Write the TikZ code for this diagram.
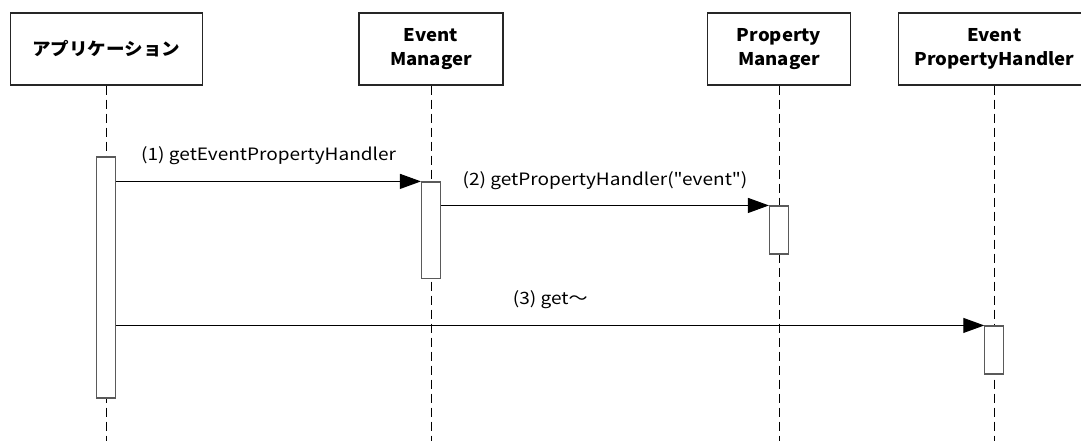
\documentclass[tikz,border=0pt]{standalone}
\usepackage{fontspec}
\setmainfont{Noto Sans CJK JP}
\newfontfamily\wideheadfont[FakeStretch=1.06]{Noto Sans CJK JP}
\newfontfamily\widelabelfont[FakeStretch=1.12]{Noto Sans CJK JP}
\usepackage{xcolor}
\definecolor{actgray}{RGB}{90,90,90}
\usetikzlibrary{arrows.meta, positioning}

\tikzset{
  objbox/.style={draw=black!85, line width=1.3pt, fill=white, minimum height=72pt,
       align=center, inner sep=0pt, font=\wideheadfont\bfseries\fontsize{17.5}{24}\selectfont},
  actbox/.style={draw=actgray, line width=1.1pt, fill=white, minimum width=19pt, inner sep=0pt},
  lifeline/.style={draw=black, line width=0.8pt, dash pattern=on 9pt off 5pt},
  msg/.style={draw=black, line width=1pt, -{Triangle[length=21pt, width=15pt]}},
  msglabel/.style={font=\widelabelfont\fontsize{17}{19}\selectfont, inner sep=0pt}
}

\begin{document}
\begin{tikzpicture}[x=1pt, y=-1pt]
  \clip (0,0) rectangle (1081,441);
  \fill[white] (0,0) rectangle (1081,441);

  % Objects
  \node[objbox, minimum width=192pt] (app) at (106.3,49) {アプリケーション};
  \node[objbox, minimum width=144pt] (evmgr) at (431,49) {Event\\Manager};
  \node[objbox, minimum width=143pt] (propmgr) at (779,49) {Property\\Manager};
  \node[objbox, minimum width=192pt] (evhandler) at (994.3,49) {Event\\PropertyHandler};

  % Lifelines
  \coordinate (bottom) at (0,441);
  \foreach \obj in {app, evmgr, propmgr, evhandler}
    \draw[lifeline] (\obj.south) -- (\obj.south |- bottom);

  % Activations
  \node[actbox, minimum height=241pt] (actapp) at (106.3,277.5) {};
  \node[actbox, minimum height=96.5pt] (actevmgr) at (431,230.2) {};
  \node[actbox, minimum height=48pt] (actpropmgr) at (779,230) {};
  \node[actbox, minimum height=48pt] (actevhandler) at (994.3,350) {};

  % Messages
  \draw[msg] (actapp.east |- actevmgr.north) -- node[msglabel, above=16pt] {(1) getEventPropertyHandler}
       (actevmgr.north west);
  \draw[msg] (actevmgr.east |- actpropmgr.north) -- node[msglabel, above=15pt] {(2) getPropertyHandler("event")}
       (actpropmgr.north west);
  \draw[msg] (actapp.east |- actevhandler.north) -- node[msglabel, above=16pt] {(3) get〜}
       (actevhandler.north west);
\end{tikzpicture}
\end{document}
